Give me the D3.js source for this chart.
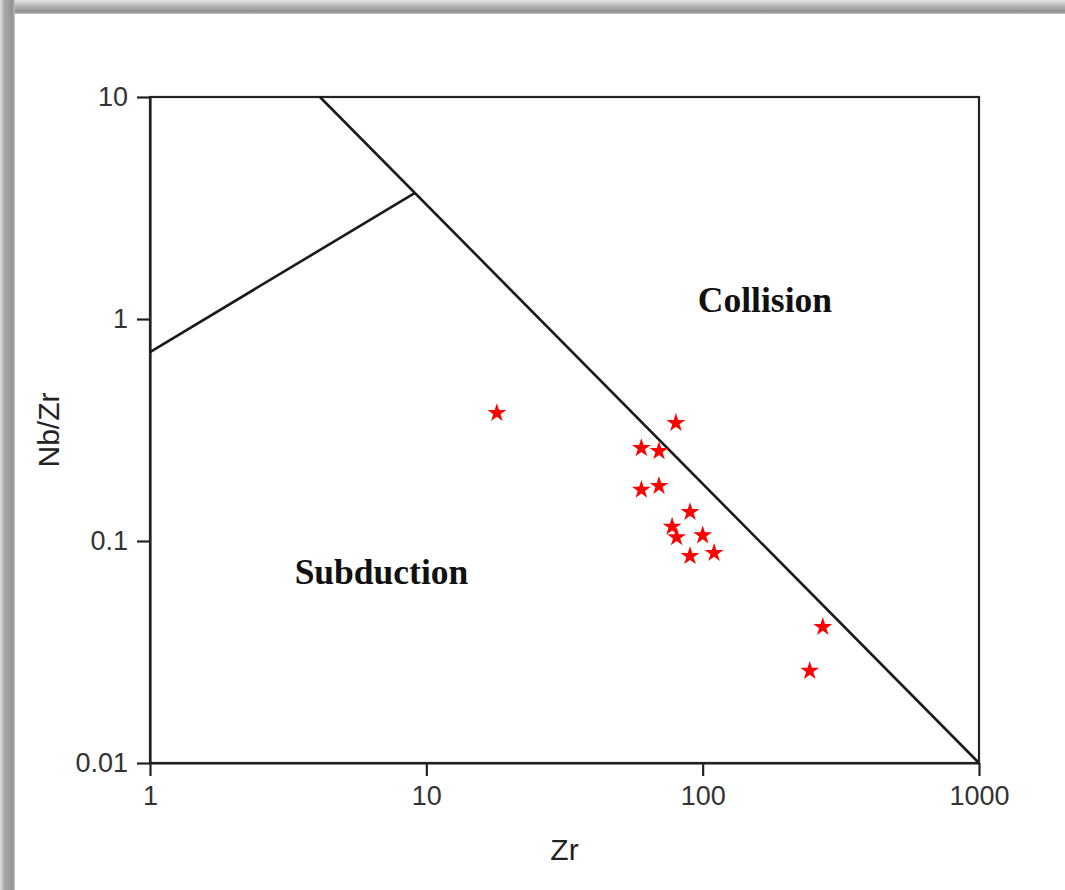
<!DOCTYPE html>
<html>
<head>
<meta charset="utf-8">
<script src="https://cdn.jsdelivr.net/npm/d3@7"></script>
<style>
  html, body { margin: 0; padding: 0; background: #fff; }
  svg { display: block; }
</style>
</head>
<body>
<svg id="chart" width="1065" height="890"></svg>
<script>
// Sample points: Zr (ppm) and Nb/Zr ratio
const zr   = [18, 80, 60, 69.5, 60, 69.5, 90, 77.5, 80.5, 100, 90, 110, 272, 244];
const nbzr = [0.377, 0.340, 0.262, 0.254, 0.170, 0.177, 0.135, 0.116, 0.104, 0.106, 0.0855, 0.0883, 0.041, 0.026];

// Tectonic discrimination boundaries (Zr, Nb/Zr)
const boundaryMainZr   = [4.12, 1000];
const boundaryMainNbZr = [10, 0.01];
const boundaryBranchZr   = [1, 9.1];
const boundaryBranchNbZr = [0.71, 3.7];

// Field labels and their anchor positions (Zr, Nb/Zr)
const fieldNames = ["Collision", "Subduction"];
const fieldZr    = [168, 6.88];
const fieldNbZr  = [1.075, 0.064];

// Tick values
const xTicks = [1, 10, 100, 1000];
const yTicks = [0.01, 0.1, 1, 10];
const xTickLabels = ["1", "10", "100", "1000"];
const yTickLabels = ["0.01", "0.1", "1", "10"];

const svg = d3.select("#chart");
const W = 1065, H = 890;
const plotLeft = 150, plotRight = 979, plotTop = 97, plotBottom = 763;

// Picture frame: soft grey edges on top and left
const defs = svg.append("defs");
const gTop = defs.append("linearGradient").attr("id", "frameTop")
  .attr("x1", 0).attr("y1", 0).attr("x2", 0).attr("y2", 1);
gTop.append("stop").attr("offset", "0%").attr("stop-color", "#e4e4e4");
gTop.append("stop").attr("offset", "45%").attr("stop-color", "#b4b4b4");
gTop.append("stop").attr("offset", "85%").attr("stop-color", "#8e8e8e");
gTop.append("stop").attr("offset", "100%").attr("stop-color", "#c8c8c8");
const gLeft = defs.append("linearGradient").attr("id", "frameLeft")
  .attr("x1", 0).attr("y1", 0).attr("x2", 1).attr("y2", 0);
gLeft.append("stop").attr("offset", "0%").attr("stop-color", "#e0e0e0");
gLeft.append("stop").attr("offset", "30%").attr("stop-color", "#a8a8a8");
gLeft.append("stop").attr("offset", "85%").attr("stop-color", "#939393");
gLeft.append("stop").attr("offset", "100%").attr("stop-color", "#c8c8c8");

svg.append("rect").attr("x", 0).attr("y", 0).attr("width", W).attr("height", H).attr("fill", "#fff");
svg.append("rect").attr("x", 0).attr("y", 0).attr("width", W).attr("height", 14).attr("fill", "url(#frameTop)");
svg.append("rect").attr("x", 0).attr("y", 0).attr("width", 15).attr("height", H).attr("fill", "url(#frameLeft)");

const x = d3.scaleLog().domain([1, 1000]).range([plotLeft, plotRight]);
const y = d3.scaleLog().domain([0.01, 10]).range([plotBottom, plotTop]);

const axisColor = "#222";
const tickFont = "Liberation Sans, Arial, sans-serif";

// Plot frame
svg.append("rect")
  .attr("x", plotLeft).attr("y", plotTop)
  .attr("width", plotRight - plotLeft).attr("height", plotBottom - plotTop)
  .attr("fill", "none").attr("stroke", axisColor).attr("stroke-width", 2.2);

// X axis
const xAxis = d3.axisBottom(x)
  .tickValues(xTicks)
  .tickFormat((d, i) => xTickLabels[i])
  .tickSizeInner(13).tickSizeOuter(0).tickPadding(10);
const gx = svg.append("g").attr("transform", `translate(0,${plotBottom})`).call(xAxis);
gx.select(".domain").attr("stroke", axisColor).attr("stroke-width", 2.2);
gx.selectAll(".tick line").attr("stroke", axisColor).attr("stroke-width", 2.2);
gx.selectAll(".tick text").attr("fill", "#333").attr("font-family", tickFont).attr("font-size", 27);

// Y axis
const yAxis = d3.axisLeft(y)
  .tickValues(yTicks)
  .tickFormat((d, i) => yTickLabels[i])
  .tickSizeInner(13).tickSizeOuter(0).tickPadding(9);
const gy = svg.append("g").attr("transform", `translate(${plotLeft},0)`).call(yAxis);
gy.select(".domain").attr("stroke", axisColor).attr("stroke-width", 2.2);
gy.selectAll(".tick line").attr("stroke", axisColor).attr("stroke-width", 2.2);
gy.selectAll(".tick text").attr("fill", "#333").attr("font-family", tickFont).attr("font-size", 27);

// Axis titles
svg.append("text")
  .attr("x", (plotLeft + plotRight) / 2).attr("y", 860)
  .attr("text-anchor", "middle")
  .attr("font-family", tickFont).attr("font-size", 30).attr("fill", "#222")
  .text("Zr");
svg.append("text")
  .attr("transform", `translate(59,${(plotTop + plotBottom) / 2}) rotate(-90)`)
  .attr("text-anchor", "middle")
  .attr("font-family", tickFont).attr("font-size", 30).attr("fill", "#222")
  .text("Nb/Zr");

// Boundary lines
const line = d3.line().x(d => x(d[0])).y(d => y(d[1]));
svg.append("path")
  .datum(d3.zip(boundaryMainZr, boundaryMainNbZr))
  .attr("d", line)
  .attr("fill", "none").attr("stroke", "#1a1a1a").attr("stroke-width", 2.6);
svg.append("path")
  .datum(d3.zip(boundaryBranchZr, boundaryBranchNbZr))
  .attr("d", line)
  .attr("fill", "none").attr("stroke", "#1a1a1a").attr("stroke-width", 2.6);

// Field labels
svg.selectAll("text.field")
  .data(fieldNames)
  .join("text")
  .attr("class", "field")
  .attr("x", (d, i) => x(fieldZr[i]))
  .attr("y", (d, i) => y(fieldNbZr[i]))
  .attr("text-anchor", "middle")
  .attr("font-family", "Liberation Serif, Times New Roman, serif")
  .attr("font-weight", "bold").attr("font-size", 35.5).attr("fill", "#111")
  .text(d => d);

// Sample stars
const star = d3.symbol().type(d3.symbolStar).size(110);
svg.selectAll("path.sample")
  .data(d3.zip(zr, nbzr))
  .join("path")
  .attr("class", "sample")
  .attr("transform", d => `translate(${x(d[0])},${y(d[1])})`)
  .attr("d", star)
  .attr("fill", "#ff0000");
</script>
</body>
</html>
